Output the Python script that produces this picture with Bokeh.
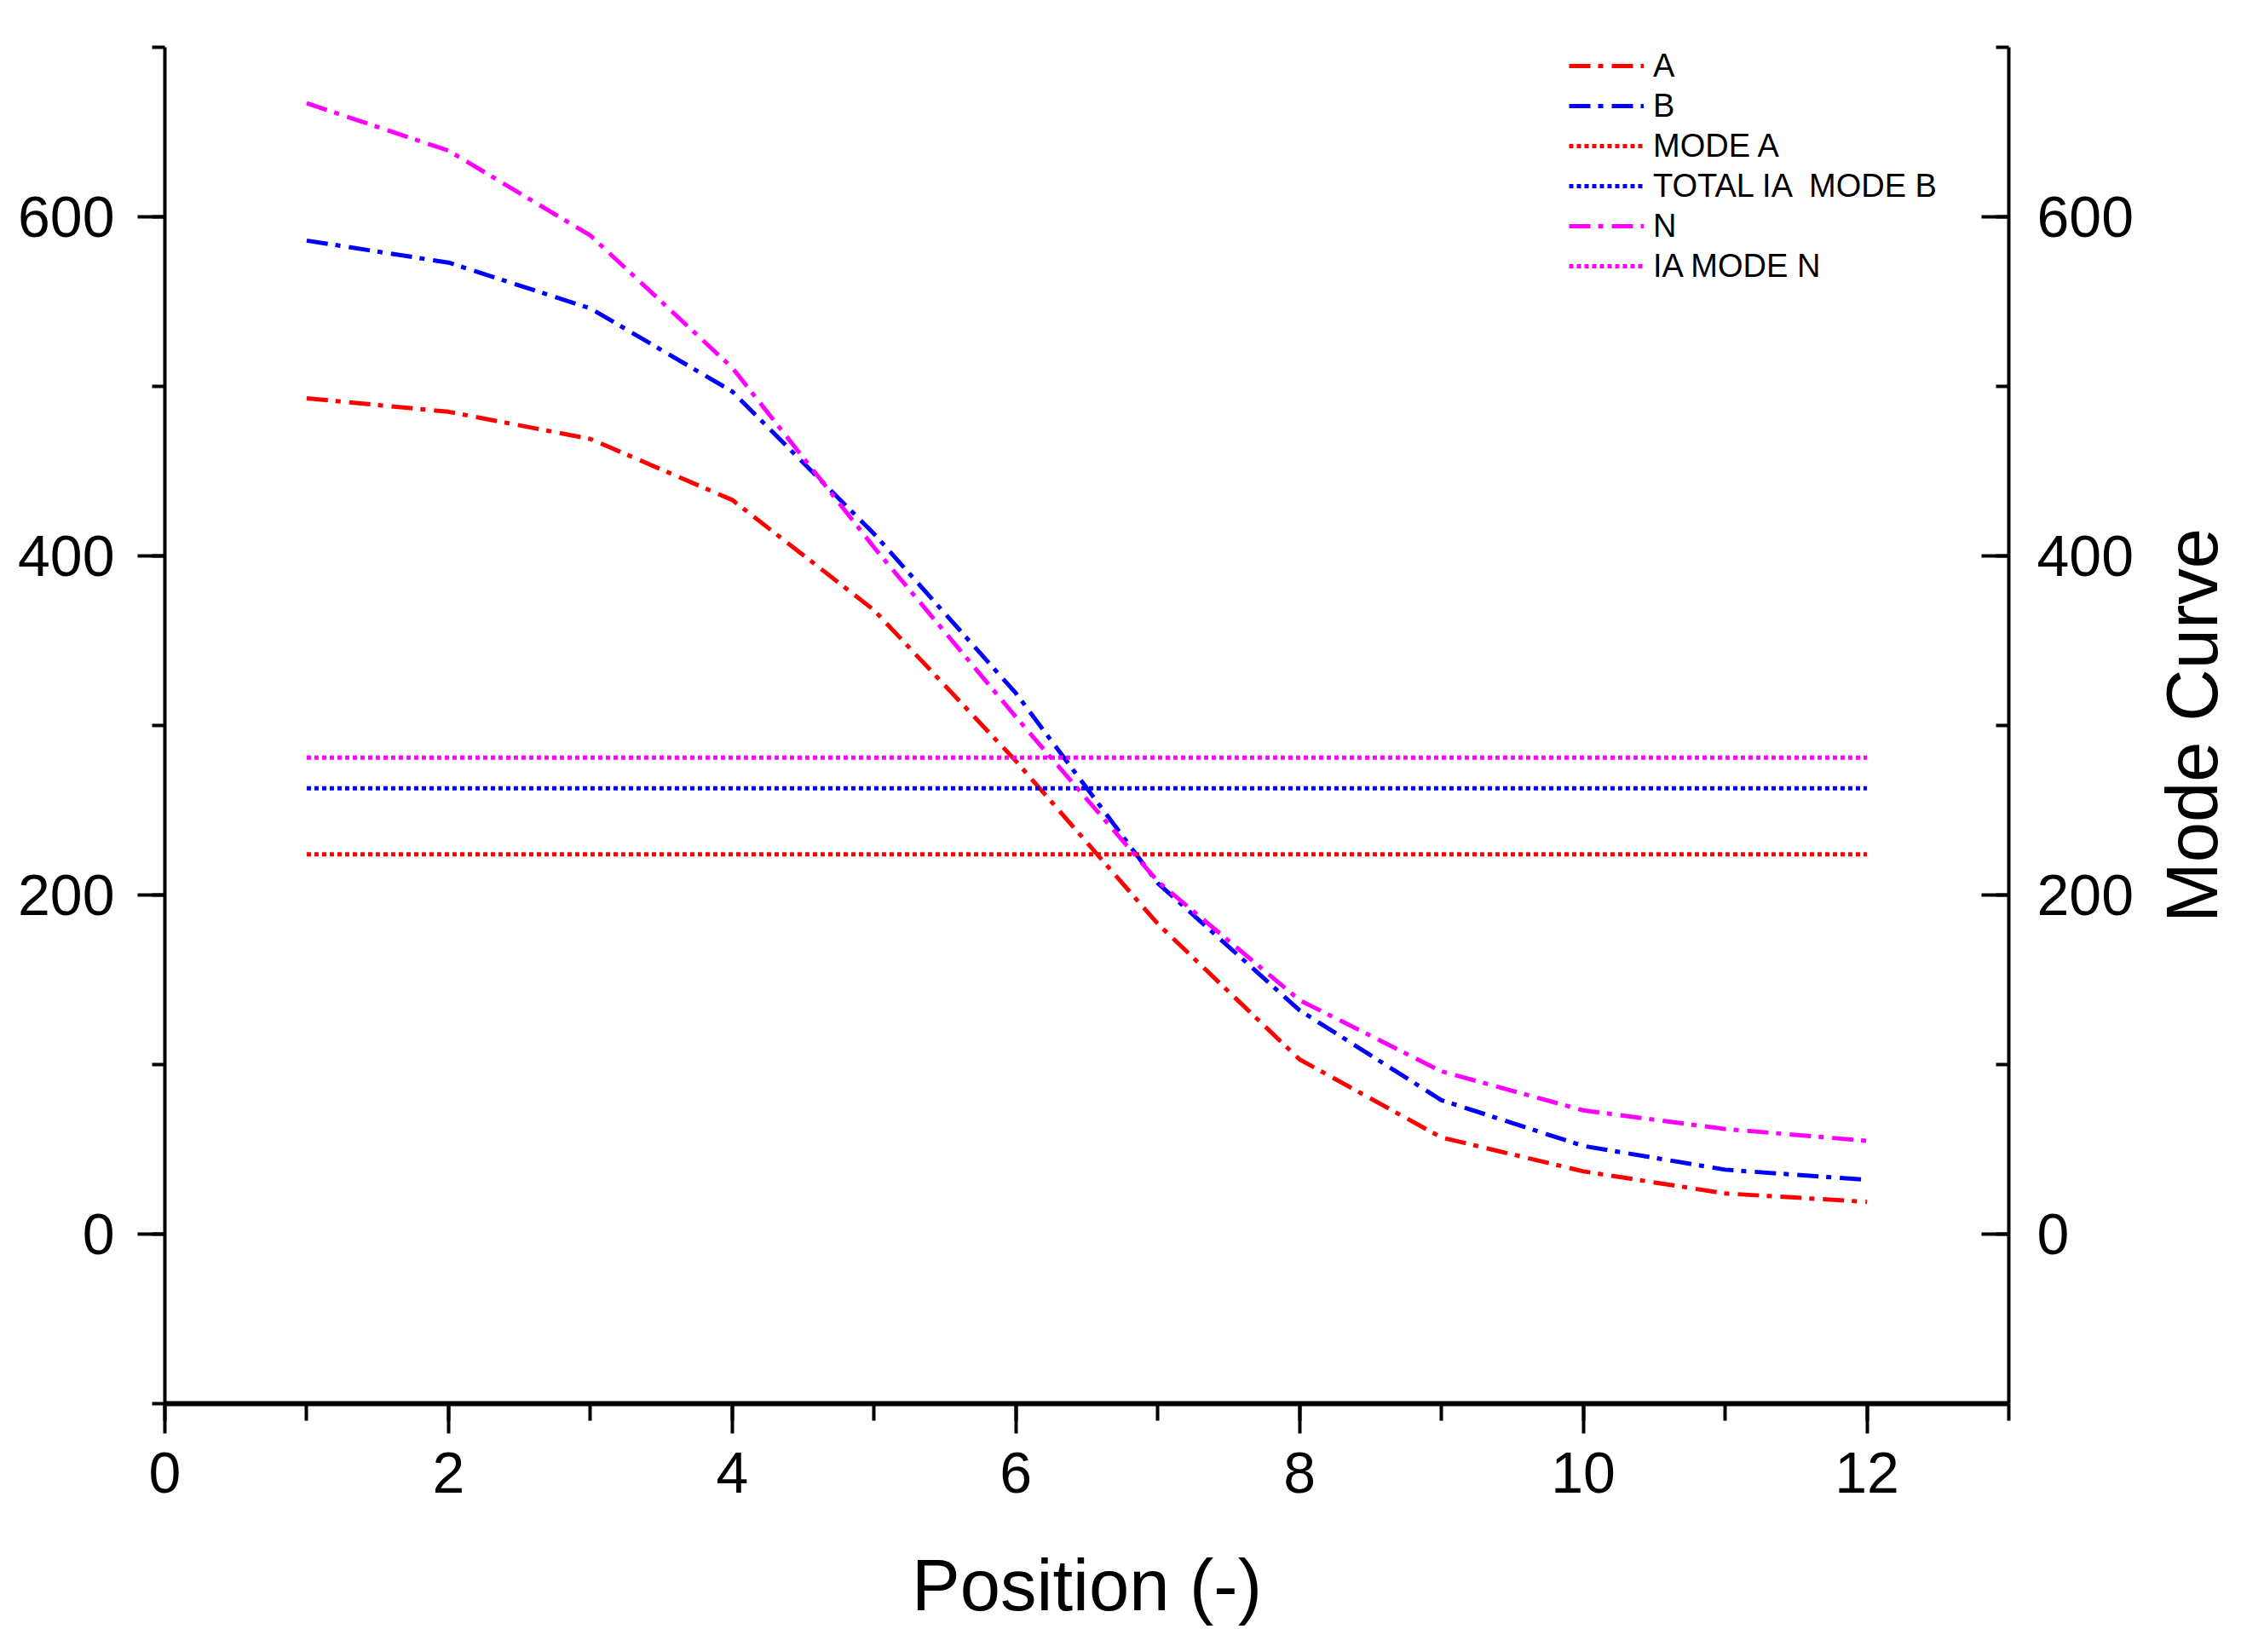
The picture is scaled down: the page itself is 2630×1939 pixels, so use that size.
import math

from bokeh.plotting import figure
from bokeh.layouts import row
from bokeh.models import Range1d, LinearAxis, SingleIntervalTicker, Legend, LegendItem, Label
from bokeh.embed import file_html
from bokeh.resources import INLINE

# ----------------------------
# Data
# ----------------------------
positions = [1, 2, 3, 4, 5, 6, 7, 8, 9, 10, 11, 12]
curve_a = [493, 485, 469, 433, 368, 279, 183, 103, 57, 37, 24, 19]
curve_b = [586, 573, 546, 497, 413, 319, 207, 132, 79, 52, 38, 32]
curve_n = [667, 639, 589, 511, 405, 305, 208, 138, 96, 73, 62, 55]
mode_a = 224
total_ia_mode_b = 263
ia_mode_n = 281

FONT = "Liberation Sans"
DASHDOT = "25 9 6 10"
DOTTED = "5 4"
LW = 5

p = figure(frame_width=2164, frame_height=1592,
           x_range=Range1d(0, 13), y_range=Range1d(-100, 700),
           min_border_left=193, min_border_top=55, min_border_right=160, min_border_bottom=30,
           toolbar_location=None, output_backend="svg")
p.outline_line_color = None
p.grid.visible = False
p.background_fill_color = "white"

# ----------------------------
# Curves
# ----------------------------
span_x = [positions[0], positions[-1]]
r_a = p.line(positions, curve_a, color="#FF0000", line_width=LW, line_dash=DASHDOT)
r_b = p.line(positions, curve_b, color="#0000FF", line_width=LW, line_dash=DASHDOT)
r_ma = p.line(span_x, [mode_a] * 2, color="#FF0000", line_width=LW, line_dash=DOTTED)
r_mb = p.line(span_x, [total_ia_mode_b] * 2, color="#0000FF", line_width=LW, line_dash=DOTTED)
r_n = p.line(positions, curve_n, color="#FF00FF", line_width=LW, line_dash=DASHDOT)
r_mn = p.line(span_x, [ia_mode_n] * 2, color="#FF00FF", line_width=LW, line_dash=DOTTED)

# ----------------------------
# Axes
# ----------------------------
def style_axis(ax):
    ax.major_label_text_font = FONT
    ax.major_label_text_font_size = "68px"
    ax.major_label_text_color = "black"
    ax.axis_label_text_font = FONT
    ax.axis_label_text_font_size = "85px"
    ax.axis_label_text_font_style = "normal"
    ax.axis_label_text_color = "black"
    ax.axis_line_color = "black"
    ax.major_tick_line_color = "black"
    ax.minor_tick_line_color = "black"
    ax.axis_line_width = 4
    ax.major_tick_line_width = 4
    ax.minor_tick_line_width = 4

xax = p.xaxis[0]
style_axis(xax)
xax.ticker = SingleIntervalTicker(interval=2, num_minor_ticks=2)
xax.axis_label = "Position (-)"
xax.axis_label_standoff = 58
xax.major_label_standoff = 22
xax.axis_line_width = 6
xax.major_tick_out = 35
xax.major_tick_in = 0
xax.minor_tick_out = 20
xax.minor_tick_in = 0

yax = p.yaxis[0]
style_axis(yax)
yax.ticker = SingleIntervalTicker(interval=200, num_minor_ticks=2)
yax.major_label_standoff = 27
yax.major_tick_out = 32
yax.major_tick_in = 0
yax.minor_tick_out = 15
yax.minor_tick_in = 0

right = LinearAxis(ticker=SingleIntervalTicker(interval=200, num_minor_ticks=2))
style_axis(right)
right.major_label_standoff = 33
right.major_tick_in = 32
right.major_tick_out = 0
right.minor_tick_in = 15
right.minor_tick_out = 0
p.add_layout(right, "right")

# ----------------------------
# Legend
# ----------------------------
legend = Legend(items=[
    LegendItem(label="A", renderers=[r_a]),
    LegendItem(label="B", renderers=[r_b]),
    LegendItem(label="MODE A", renderers=[r_ma]),
    LegendItem(label="TOTAL IA  MODE B", renderers=[r_mb]),
    LegendItem(label="N", renderers=[r_n]),
    LegendItem(label="IA MODE N", renderers=[r_mn]),
], location=(1648, 1313))
legend.padding = 0
legend.margin = 0
legend.spacing = 3
legend.label_height = 44
legend.glyph_height = 44
legend.glyph_width = 88
legend.label_standoff = 11
legend.label_text_font = FONT
legend.label_text_font_size = "38px"
legend.label_text_color = "black"
legend.border_line_alpha = 0
legend.background_fill_alpha = 0
p.add_layout(legend)

# ----------------------------
# Right-hand title strip ("Mode Curve", reading bottom to top)
# ----------------------------
q = figure(frame_width=110, frame_height=1592,
           x_range=Range1d(0, 110), y_range=p.y_range,
           x_axis_type=None, y_axis_type=None,
           min_border_left=0, min_border_right=0, min_border_top=55, min_border_bottom=0,
           toolbar_location=None, output_backend="svg")
q.outline_line_color = None
q.grid.visible = False
q.add_layout(Label(x=55, y=300, text="Mode Curve", angle=math.pi / 2,
                   text_align="center", text_baseline="middle",
                   text_font=FONT, text_font_size="85px", text_color="black"))

layout = row(p, q, spacing=0)

open("out.html", "w").write(file_html(layout, INLINE))
